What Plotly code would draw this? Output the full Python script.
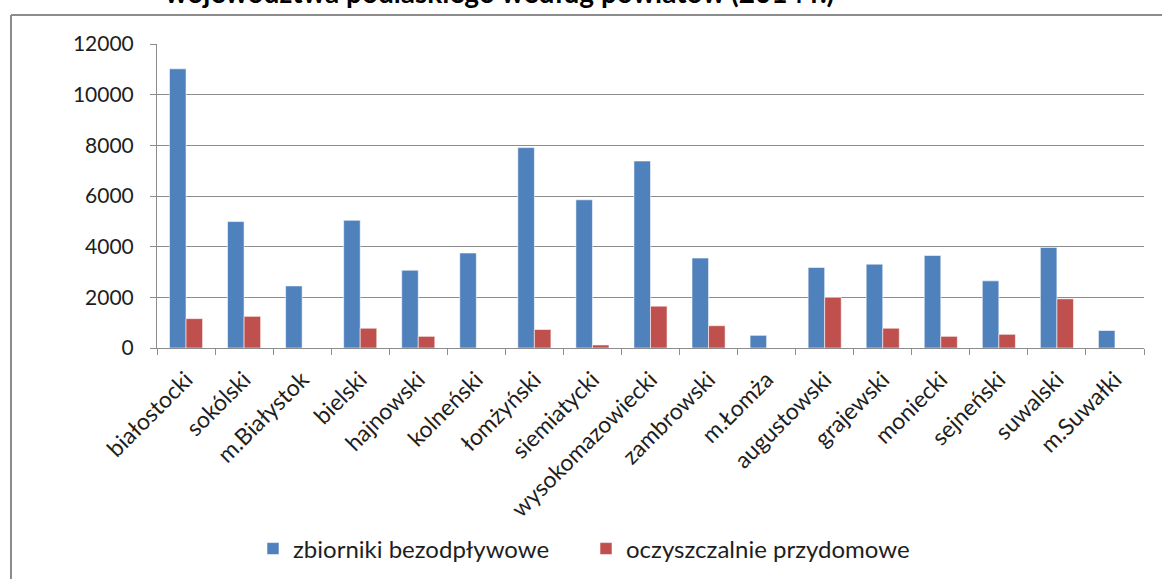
import plotly.graph_objects as go

# Powiaty województwa podlaskiego
powiaty = [
    "białostocki", "sokólski", "m.Białystok", "bielski", "hajnowski",
    "kolneński", "łomżyński", "siemiatycki", "wysokomazowiecki", "zambrowski",
    "m.Łomża", "augustowski", "grajewski", "moniecki", "sejneński",
    "suwalski", "m.Suwałki",
]

# Liczba zbiorników bezodpływowych
zbiorniki = [11020, 4990, 2450, 5040, 3070, 3750, 7910, 5850, 7380, 3550,
             500, 3180, 3310, 3650, 2650, 3970, 690]

# Liczba przydomowych oczyszczalni ścieków
oczyszczalnie = [1160, 1250, 0, 780, 460, 0, 730, 120, 1650, 880,
                 0, 2000, 780, 460, 540, 1940, 0]

tytul = "województwa podlaskiego według powiatów (2014 r.)"
y_ticks = [0, 2000, 4000, 6000, 8000, 10000, 12000]
y_labels = ["0", "2000", "4000", "6000", "8000", "10000", "12000"]

W, H = 1162, 579
L, R, T, B = 157, 18, 44, 231
plot_w = W - L - R
plot_h = H - T - B

def px_x(px):
    return (px - L) / plot_w

def px_y(py):
    return (H - B - py) / plot_h

FONT = "Lato, 'Open Sans', sans-serif"
GRID = "#8c8c8c"
TXT = "#1e1e1e"

fig = go.Figure()
fig.add_trace(go.Bar(
    x=powiaty, y=zbiorniki, name="zbiorniki bezodpływowe",
    marker=dict(color="#4F81BD", line=dict(color="rgba(255,255,255,0.7)", width=0.8)),
))
fig.add_trace(go.Bar(
    x=powiaty, y=oczyszczalnie, name="oczyszczalnie przydomowe",
    marker=dict(color="#C0504D", line=dict(color="rgba(255,255,255,0.7)", width=0.8)),
))

fig.update_layout(
    width=W, height=H,
    margin=dict(l=L, r=R, t=T, b=B, pad=0, autoexpand=False),
    paper_bgcolor="white", plot_bgcolor="white",
    barmode="group", bargap=0.43, bargroupgap=0,
    font=dict(family=FONT, color=TXT),
    showlegend=True,
    legend=dict(
        orientation="h", x=px_x(253), xanchor="left", y=px_y(549), yanchor="middle",
        font=dict(family=FONT, size=24, color=TXT),
        itemwidth=30, entrywidth=288, entrywidthmode="pixels",
        bgcolor="rgba(0,0,0,0)", traceorder="normal",
    ),
    xaxis=dict(
        type="category", showgrid=False, automargin=False,
        showline=True, linecolor=GRID, linewidth=1,
        ticks="outside", tickson="boundaries", ticklen=6, tickcolor=GRID,
        tickangle=-45, tickfont=dict(family=FONT, size=23, color=TXT),
        ticklabelstandoff=8,
    ),
    yaxis=dict(
        range=[0, 12000], tickvals=y_ticks, ticktext=y_labels,
        showgrid=True, gridcolor=GRID, gridwidth=1, automargin=False,
        showline=True, linecolor=GRID, linewidth=1,
        ticks="outside", ticklen=6, tickcolor=GRID,
        tickfont=dict(family=FONT, size=21, color=TXT),
        ticklabelstandoff=12, zeroline=False,
    ),
    shapes=[
        # ramka wykresu (lewa i górna krawędź)
        dict(type="line", xref="paper", yref="paper",
             x0=px_x(11), x1=px_x(11), y0=px_y(15), y1=px_y(590),
             line=dict(color="#8c8c8c", width=2)),
        dict(type="line", xref="paper", yref="paper",
             x0=px_x(11), x1=px_x(1170), y0=px_y(15), y1=px_y(15),
             line=dict(color="#8c8c8c", width=2)),
    ],
    annotations=[
        dict(text="<b>" + tytul + "</b>", xref="paper", yref="paper",
             x=px_x(499), y=px_y(11), xanchor="center", yanchor="bottom",
             showarrow=False, font=dict(family=FONT, size=28, color="#000000")),
    ],
)

fig.write_html("out.html")
